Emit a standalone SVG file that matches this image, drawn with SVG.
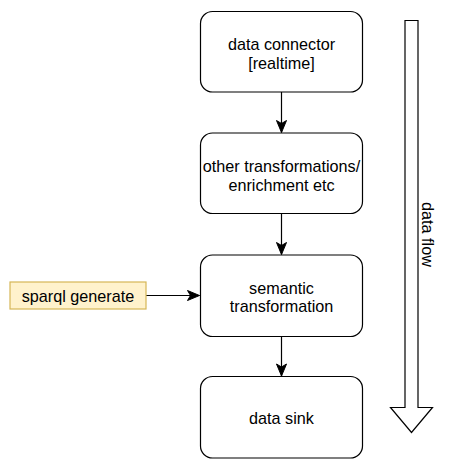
<svg xmlns="http://www.w3.org/2000/svg" width="450" height="474" viewBox="0 0 450 474">
<style>
.box{fill:#ffffff;stroke:#000000;stroke-width:1.2}
.note{fill:#fff2cc;stroke:#d6b656;stroke-width:1.2}
.lbl{font-family:"Liberation Sans",Arial,sans-serif;font-size:16.2px;fill:#000000;text-anchor:middle}
.edge{fill:none;stroke:#000000;stroke-width:1.2}
.big{fill:#ffffff;stroke:#000000;stroke-width:1.2;stroke-linejoin:miter}
</style>
<defs>
<marker id="arr" markerUnits="userSpaceOnUse" markerWidth="14" markerHeight="12" viewBox="-13 -6 14 12" refX="0" refY="0" orient="auto">
<path d="M0,0 L-12,-5 L-9,0 L-12,5 Z" fill="#000000" stroke="#000000" stroke-width="1"/>
</marker>
</defs>
<rect width="450" height="474" fill="#ffffff"/>
<g id="connectors">
<line class="edge" x1="281.5" y1="92" x2="281.5" y2="132.5" marker-end="url(#arr)"/>
<line class="edge" x1="281.5" y1="214" x2="281.5" y2="254.5" marker-end="url(#arr)"/>
<line class="edge" x1="281.5" y1="336.5" x2="281.5" y2="376" marker-end="url(#arr)"/>
<line class="edge" x1="146" y1="295.5" x2="199.5" y2="295.5" marker-end="url(#arr)"/>
</g>
<g id="node-data-connector">
<rect class="box" x="200.5" y="11.5" width="162" height="80.5" rx="12" ry="12"/>
<text class="lbl" x="281.5" y="49.5">data connector</text>
<text class="lbl" x="281.5" y="68.5">[realtime]</text>
</g>
<g id="node-other-transformations">
<rect class="box" x="200.5" y="133" width="162" height="80.5" rx="12" ry="12"/>
<text class="lbl" x="281.5" y="171.5">other transformations/</text>
<text class="lbl" x="281.5" y="190.5">enrichment etc</text>
</g>
<g id="node-semantic-transformation">
<rect class="box" x="200.5" y="255" width="162" height="81.5" rx="12" ry="12"/>
<text class="lbl" x="281.5" y="293.5">semantic</text>
<text class="lbl" x="281.5" y="312">transformation</text>
</g>
<g id="node-data-sink">
<rect class="box" x="200.5" y="376.5" width="162" height="81.5" rx="12" ry="12"/>
<text class="lbl" x="281.5" y="423.5">data sink</text>
</g>
<g id="node-sparql-generate">
<rect class="note" x="10" y="282" width="136" height="27"/>
<text class="lbl" x="78" y="301.5">sparql generate</text>
</g>
<g id="node-data-flow">
<path class="big" d="M405,20.5 L418,20.5 L418,407.5 L432.5,407.5 L411.5,432.5 L390.5,407.5 L405,407.5 Z"/>
<text class="lbl" transform="translate(427.5,234.5) rotate(90)" x="0" y="6">data flow</text>
</g>
</svg>
